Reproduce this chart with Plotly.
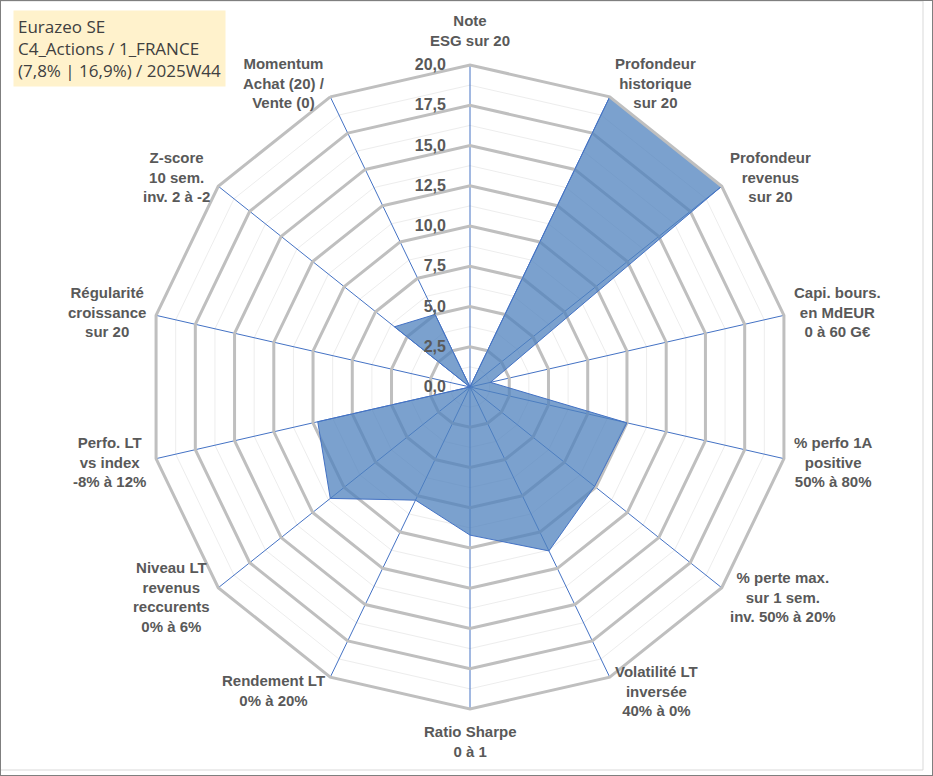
import math
import plotly.graph_objects as go

# données du radar (échelle 0-20)
axes = [
    'Note<br>ESG sur 20',
    'Profondeur<br>historique<br>sur 20',
    'Profondeur<br>revenus<br>sur 20',
    'Capi. bours.<br>en MdEUR<br>0 à 60 G€',
    '% perfo 1A<br>positive<br>50% à 80%',
    '% perte max.<br>sur 1 sem.<br>inv. 50% à 20%',
    'Volatilité LT<br>inversée<br>40% à 0%',
    'Ratio Sharpe<br>0 à 1',
    'Rendement LT<br>0% à 20%',
    'Niveau LT<br>revenus<br>reccurents<br>0% à 6%',
    'Perfo. LT<br>vs index<br>-8% à 12%',
    'Régularité<br>croissance<br>sur 20',
    'Z-score<br>10 sem.<br>inv. 2 à -2',
    'Momentum<br>Achat (20) /<br>Vente (0)',
]
notes = [0, 20, 20, 1.3, 10.0, 9.9, 11.3, 9.2, 7.8, 11.1, 9.7, 0, 6.0, 5.0]

titre = 'Eurazeo SE<br>C4_Actions / 1_FRANCE<br>(7,8% | 16,9%) / 2025W44'

# mise en page (pixels)
W, H = 933, 776
cx, cy, R = 470, 387, 322
dom_x = [(cx - R) / W, (cx + R) / W]
dom_y = [1 - (cy + R) / H, 1 - (cy - R) / H]

fig = go.Figure()

# trace invisible pour le sous-graphe des grilles fines
fig.add_trace(go.Scatterpolar(
    r=notes, theta=axes, subplot='polar', mode='lines',
    line=dict(width=0), hoverinfo='skip', showlegend=False
))

fig.add_trace(go.Scatterpolar(
    r=notes + notes[:1], theta=axes + axes[:1], subplot='polar2',
    mode='lines', fill='toself',
    fillcolor='rgba(79,129,189,0.75)',
    line=dict(color='#4472C4', width=1),
    showlegend=False
))

commun = dict(
    domain=dict(x=dom_x, y=dom_y),
    gridshape='linear',
)

fig.update_layout(
    width=W, height=H,
    margin=dict(l=0, r=0, t=0, b=0),
    paper_bgcolor='white',
    separators=', ',
    font=dict(family='Liberation Sans, Arial', color='#595959'),
    polar=dict(
        **commun,
        bgcolor='white',
        radialaxis=dict(range=[0, 20], dtick=1.25, showticklabels=False,
                        gridcolor='#EDEDED', gridwidth=1, showline=False, ticks=''),
        angularaxis=dict(rotation=90, direction='clockwise', showgrid=False,
                         showticklabels=False, showline=False, ticks=''),
    ),
    polar2=dict(
        **commun,
        bgcolor='rgba(0,0,0,0)',
        radialaxis=dict(range=[0, 20], dtick=2.5, tickformat='.1f',
                        angle=90, tickangle=90, side='counterclockwise',
                        ticks='outside', ticklen=18, tickcolor='rgba(0,0,0,0)',
                        tickfont=dict(size=16, color='#595959', weight='bold',
                                      family='Liberation Sans, Arial'),
                        gridcolor='#BFBFBF', gridwidth=3, showline=False),
        angularaxis=dict(rotation=90, direction='clockwise',
                         gridcolor='#4472C4', gridwidth=1.2,
                         linecolor='#BFBFBF', linewidth=3, showline=True,
                         showticklabels=False, ticks=''),
    ),
)

# étiquettes des axes, centrées comme dans Excel
n = len(axes)
for i, lab in enumerate(axes):
    a = math.radians(i * 360 / n)
    s, c = math.sin(a), math.cos(a)
    vx, vy = cx + R * s, cy - R * c
    if abs(s) < 0.1:
        xa = 'center'
        x = vx
        if c > 0:
            ya, y = 'bottom', vy - 14
        else:
            ya, y = 'top', vy + 12
    else:
        xa = 'left' if s > 0 else 'right'
        x = vx + 8 * s
        ya, y = 'middle', vy - 15 * c
    fig.add_annotation(
        x=x / W, y=1 - y / H, xref='paper', yref='paper',
        text='<b>' + lab + '</b>', showarrow=False, align='center',
        xanchor=xa, yanchor=ya,
        font=dict(size=15, color='#595959', family='Liberation Sans, Arial')
    )

# cartouche du titre
fig.add_annotation(
    x=13 / W, y=1 - 10 / H, xref='paper', yref='paper',
    text=titre, showarrow=False, align='left',
    xanchor='left', yanchor='top',
    bgcolor='#FFF2CC', borderpad=4,
    font=dict(size=17, color='#404040', family='Open Sans, Noto Sans')
)

# cadres
fig.add_shape(type='rect', xref='paper', yref='paper',
              x0=0.5 / W, x1=923 / W, y0=1 - 770 / H, y1=1 - 1 / H,
              line=dict(color='#D9D9D9', width=1))
fig.add_shape(type='rect', xref='paper', yref='paper',
              x0=0, x1=1, y0=0, y1=1,
              line=dict(color='#7F7F7F', width=2))

fig.write_html('out.html', config={'displayModeBar': False},
               post_script="document.body.style.margin='0';")
